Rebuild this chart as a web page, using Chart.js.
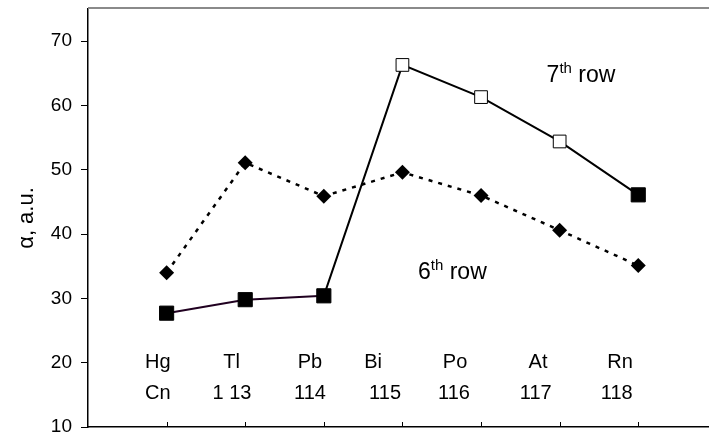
<!DOCTYPE html>
<html>
<head>
<meta charset="utf-8">
<script src="https://cdn.jsdelivr.net/npm/chart.js@4/dist/chart.umd.min.js"></script>
<style>
  html, body { margin: 0; padding: 0; background: #fff; }
  #wrap { width: 709px; height: 436px; }
</style>
</head>
<body>
<div id="wrap"><canvas id="c" width="709" height="436"></canvas></div>
<script>
// Elements of the 6th row and their 7th-row homologues
const elements6 = ['Hg', 'Tl', 'Pb', 'Bi', 'Po', 'At', 'Rn'];
const elements7 = ['Cn', '1 13', '114', '115', '116', '117', '118'];

// Static dipole polarizability, a.u.
const alpha6 = [34.0, 51.1, 45.9, 49.6, 46.0, 40.6, 35.1];
const alpha7 = [27.7, 29.8, 30.4, 66.3, 61.3, 54.4, 46.1];

// Marker fill for the 7th-row points (open squares for 115-117)
const fill7 = ['#000', '#000', '#000', '#fff', '#fff', '#fff', '#000'];

const yTicks = [10, 20, 30, 40, 50, 60, 70];

// Where the in-plot element names and row captions sit (axis units)
const textLayout = {
  sym6X: [0.887, 1.828, 2.824, 3.626, 4.669, 5.725, 6.768],
  sym7X: [0.889, 1.832, 2.824, 3.779, 4.656, 5.696, 6.726],
  sym6Y: 19.1,
  sym7Y: 14.4,
  row7: { x: 5.834, y: 63.6, n: '7' },
  row6: { x: 4.198, y: 33.0, n: '6' }
};

const FONT = '"Liberation Sans", Arial, sans-serif';

const pts6 = alpha6.map((v, i) => ({ x: i + 1, y: v }));
const pts7 = alpha7.map((v, i) => ({ x: i + 1, y: v }));

function noPad(s) {
  s.paddingTop = 0;
  s.paddingBottom = 0;
  s.paddingLeft = 0;
  s.paddingRight = 0;
}

const decor = {
  id: 'decor',
  afterDraw(chart) {
    const { ctx, chartArea, scales } = chart;
    const xs = scales.x, ys = scales.y;
    ctx.save();
    // grey frame line along the top
    ctx.strokeStyle = '#8a8a8a';
    ctx.lineWidth = 2;
    ctx.beginPath();
    ctx.moveTo(chartArea.left, chartArea.top - 1);
    ctx.lineTo(chartArea.right, chartArea.top - 1);
    ctx.stroke();
    // inward tick marks on the category axis
    ctx.strokeStyle = '#000';
    ctx.lineWidth = 1;
    elements6.forEach((_, i) => {
      const px = Math.round(xs.getPixelForValue(i + 1)) + 0.5;
      ctx.beginPath();
      ctx.moveTo(px, chartArea.bottom);
      ctx.lineTo(px, chartArea.bottom - 5);
      ctx.stroke();
    });
    // element names
    ctx.fillStyle = '#000';
    ctx.font = '20px ' + FONT;
    ctx.textAlign = 'center';
    ctx.textBaseline = 'alphabetic';
    elements6.forEach((s, i) => {
      ctx.fillText(s, xs.getPixelForValue(textLayout.sym6X[i]), ys.getPixelForValue(textLayout.sym6Y));
    });
    elements7.forEach((s, i) => {
      ctx.fillText(s, xs.getPixelForValue(textLayout.sym7X[i]), ys.getPixelForValue(textLayout.sym7Y));
    });
    // row captions with superscript ordinal
    ctx.textAlign = 'left';
    [textLayout.row7, textLayout.row6].forEach(r => {
      let x = xs.getPixelForValue(r.x);
      const y = ys.getPixelForValue(r.y);
      ctx.font = '23px ' + FONT;
      ctx.fillText(r.n, x, y);
      x += ctx.measureText(r.n).width;
      ctx.font = '15px ' + FONT;
      ctx.fillText('th', x, y - 9);
      x += ctx.measureText('th').width;
      ctx.font = '23px ' + FONT;
      ctx.fillText(' row', x, y);
    });
    ctx.restore();
  }
};

new Chart(document.getElementById('c'), {
  type: 'line',
  data: {
    datasets: [
      {
        label: '7th row',
        data: pts7,
        borderColor: '#000',
        borderWidth: 2,
        segment: { borderColor: c => (c.p0DataIndex < 2 ? '#200020' : '#000') },
        pointStyle: 'rect',
        pointRadius: [10, 10, 10, 9, 9, 9, 10],
        pointBackgroundColor: fill7,
        pointBorderColor: '#000',
        pointBorderWidth: 1,
        tension: 0,
        order: 0
      },
      {
        label: '6th row',
        data: pts6,
        borderColor: '#000',
        borderWidth: 2.5,
        borderDash: [4, 6],
        pointStyle: 'rectRot',
        pointRadius: 7.5,
        pointBackgroundColor: '#000',
        pointBorderColor: '#000',
        pointBorderWidth: 0,
        tension: 0,
        order: 1
      }
    ]
  },
  options: {
    responsive: false,
    animation: false,
    layout: { autoPadding: false, padding: { top: 9, right: 0, bottom: 0, left: 0 } },
    plugins: { legend: { display: false }, tooltip: { enabled: false } },
    scales: {
      x: {
        type: 'linear',
        min: 0,
        max: 7.9,
        ticks: { display: false, stepSize: 1 },
        grid: { display: false, drawTicks: false },
        border: { display: true, color: '#000', width: 1.5 },
        afterFit: s => { s.height = 9; noPad(s); }
      },
      y: {
        type: 'linear',
        min: 10,
        max: 75,
        afterBuildTicks: s => { s.ticks = yTicks.map(v => ({ value: v })); },
        ticks: { color: '#000', font: { family: FONT, size: 19 }, padding: 9 },
        grid: { drawOnChartArea: false, tickLength: 7, color: '#000', tickWidth: 1 },
        border: { display: true, color: '#000', width: 1.5 },
        title: {
          display: true,
          text: 'α, a.u.',
          color: '#000',
          font: { family: FONT, size: 22 },
          padding: { top: 14, bottom: 0 }
        },
        afterFit: s => { s.width = 88; noPad(s); }
      }
    }
  },
  plugins: [decor]
});
</script>
</body>
</html>
